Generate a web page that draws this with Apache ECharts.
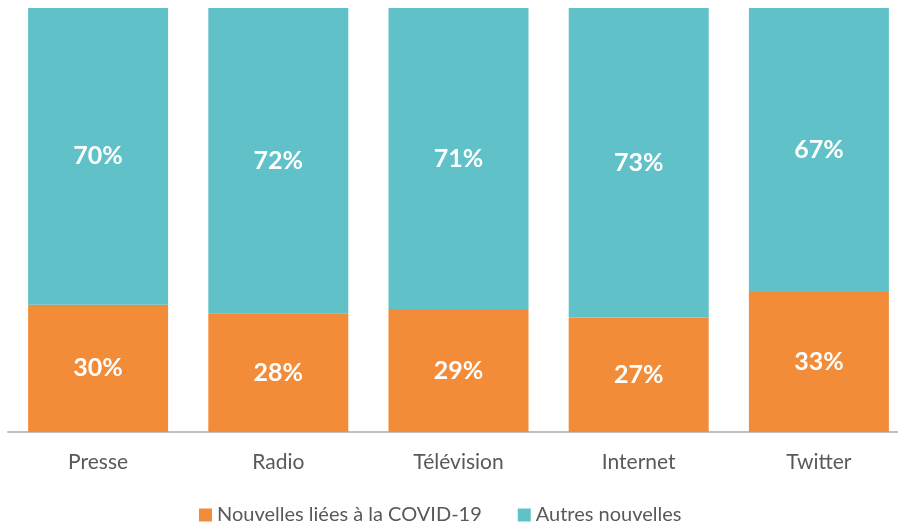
<!DOCTYPE html>
<html>
<head>
<meta charset="utf-8">
<script src="https://cdn.jsdelivr.net/npm/echarts@6/dist/echarts.min.js"></script>
<style>
  html, body { margin: 0; padding: 0; background: #fff; overflow: hidden; }
  #chart { width: 912px; height: 528px; }
</style>
</head>
<body>
<div id="chart"></div>
<script>
// données
const categories = ['Presse', 'Radio', 'Télévision', 'Internet', 'Twitter']
const covidValues = [30, 28, 29, 27, 33]
const autresValues = [70, 72, 71, 73, 67]
const seriesNames = ['Nouvelles liées à la COVID-19', 'Autres nouvelles']

const font = 'Lato, "Open Sans", sans-serif'

const label = {
  show: true,
  position: 'inside',
  color: '#fff',
  fontWeight: 'bold',
  fontSize: 25,
  fontFamily: font,
  formatter: (p) => p.value + '%'
}

const chart = echarts.init(document.getElementById('chart'))
chart.setOption({
  animation: false,
  grid: { left: 8, top: 8, width: 901, bottom: 96, containLabel: false },
  legend: {
    bottom: -2,
    left: 194,
    itemWidth: 13,
    itemHeight: 13,
    itemGap: 36,
    icon: 'rect',
    textStyle: { color: '#595959', fontSize: 20, fontFamily: font }
  },
  xAxis: {
    type: 'category',
    data: categories,
    axisLine: { lineStyle: { color: '#bfbfbf', width: 2 } },
    axisTick: { show: false },
    axisLabel: { color: '#595959', fontSize: 21, fontFamily: font, margin: 20 }
  },
  yAxis: {
    type: 'value',
    min: 0,
    max: 100,
    show: false
  },
  series: [
    {
      name: seriesNames[0],
      type: 'bar',
      stack: 'total',
      barWidth: 140,
      data: covidValues,
      itemStyle: { color: '#F28C38' },
      label: label
    },
    {
      name: seriesNames[1],
      type: 'bar',
      stack: 'total',
      barWidth: 140,
      data: autresValues,
      itemStyle: { color: '#60C1C9' },
      label: label
    }
  ]
})
</script>
</body>
</html>
